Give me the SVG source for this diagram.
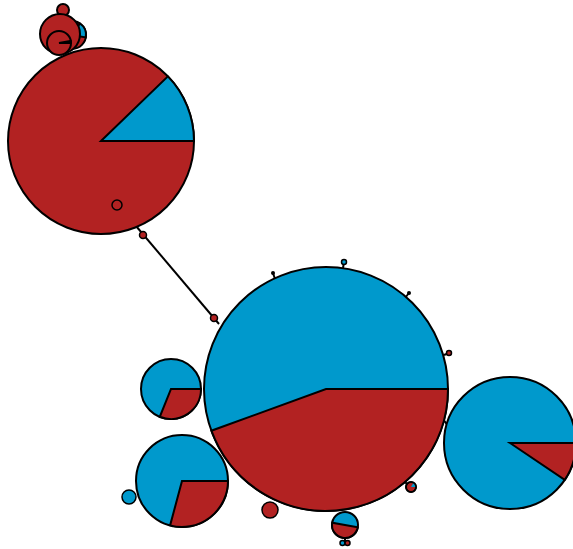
<svg xmlns="http://www.w3.org/2000/svg" width="573" height="549" viewBox="0 0 573 549">
<style>
.r{fill:#b22222;stroke:#000;stroke-width:2}
.b{fill:#0099cc;stroke:#000;stroke-width:2}
.s{fill:#b22222;stroke:#000;stroke-width:1.5}
.sb{fill:#0099cc;stroke:#000;stroke-width:1.5}
.e{stroke:#000;stroke-width:2;fill:none}
</style>
<rect width="573" height="549" fill="#fff"/>
<g id="edges">
<line class="e" x1="136" y1="226" x2="219" y2="324"/>
<line class="e" x1="273" y1="273" x2="275" y2="279"/>
<line class="e" x1="344" y1="262" x2="343" y2="268"/>
<line class="e" x1="409" y1="293" x2="405" y2="298"/>
<line class="e" x1="449" y1="353" x2="444" y2="355"/>
<line class="e" x1="443" y1="419" x2="448" y2="426"/>
<line class="e" x1="405" y1="482" x2="410" y2="487"/>
<line class="e" x1="345" y1="538" x2="345" y2="543"/>
<line class="e" x1="56" y1="50" x2="62" y2="55"/>
</g>
<g id="n-top">
<circle class="r" cx="72" cy="35" r="14"/>
<path class="b" d="M72 35 L80 23.5 A14 14 0 0 1 85.8 37.4 Z"/>
<circle class="r" cx="63" cy="10" r="6"/>
<circle class="r" cx="60" cy="34" r="20"/>
<circle class="r" cx="59" cy="43" r="12"/>
<path class="b" d="M59 43 L70.8 40.9 A12 12 0 0 1 71 43 Z"/>
</g>
<g id="n-big1">
<circle class="r" cx="101" cy="141" r="93"/>
<path class="b" d="M101 141 L167.9 76.4 A93 93 0 0 1 194 141 Z"/>
<circle class="s" cx="117" cy="205" r="5"/>
</g>
<g id="n-link1"><circle class="s" cx="143" cy="235" r="3.5"/></g>
<g id="n-link2"><circle class="s" cx="214" cy="318" r="3.5"/></g>
<g id="n-main">
<circle class="b" cx="326" cy="389" r="122"/>
<path class="r" d="M326 389 L448 389 A122 122 0 0 1 211.4 430.7 Z"/>
</g>
<g id="n-t1"><circle fill="#000" cx="273" cy="273" r="2"/></g>
<g id="n-t2"><circle class="sb" cx="344" cy="262" r="2.5"/></g>
<g id="n-t3"><circle fill="#000" cx="409" cy="293" r="2"/></g>
<g id="n-t4"><circle class="s" cx="449" cy="353" r="2.5"/></g>
<g id="n-p1">
<circle class="b" cx="171" cy="389" r="30"/>
<path class="r" d="M171 389 L201 389 A30 30 0 0 1 159.8 416.8 Z"/>
</g>
<g id="n-p2">
<circle class="b" cx="182" cy="481" r="46"/>
<path class="r" d="M182 481 L228 481 A46 46 0 0 1 170.1 525.4 Z"/>
</g>
<g id="n-p3">
<circle class="b" cx="510" cy="443" r="66"/>
<path class="r" d="M510 443 L576 443 A66 66 0 0 1 564.7 479.9 Z"/>
</g>
<g id="n-sb"><circle class="sb" cx="129" cy="497" r="7"/></g>
<g id="n-sr"><circle class="s" cx="270" cy="510" r="8"/></g>
<g id="n-p4">
<circle class="b" cx="345" cy="525" r="13"/>
<path class="r" d="M345 525 L357.8 527.3 A13 13 0 0 1 332.2 522.7 Z"/>
</g>
<g id="n-d1"><circle class="sb" cx="342.5" cy="543" r="2.5"/></g>
<g id="n-d2"><circle class="s" cx="347.5" cy="543" r="2.5"/></g>
<g id="n-p5">
<circle class="r" cx="411" cy="487" r="5"/>
<path fill="#0099cc" d="M411 487 L413.5 482.7 A5 5 0 0 1 416 487 Z"/>
<circle fill="none" stroke="#000" stroke-width="1.5" cx="411" cy="487" r="5"/>
</g>
</svg>
